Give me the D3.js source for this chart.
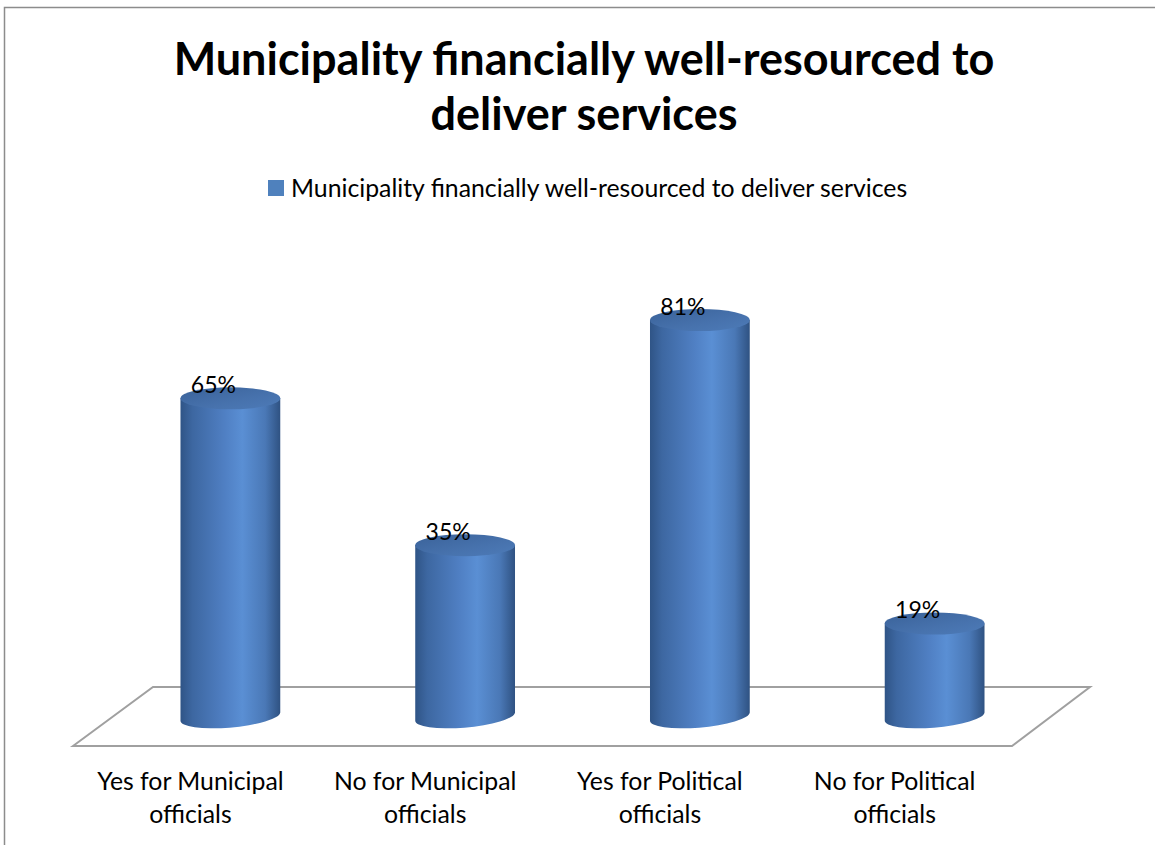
<!DOCTYPE html>
<html>
<head>
<meta charset="utf-8">
<script src="https://cdn.jsdelivr.net/npm/d3@7"></script>
<style>
  html, body { margin: 0; padding: 0; background: #fff; }
  svg { display: block; font-family: Lato, "Open Sans", sans-serif; }
</style>
</head>
<body>
<svg id="chart" width="1155" height="845"></svg>
<script>
// Survey results: share of respondents per group
const categories = [
  "Yes for Municipal officials",
  "No for Municipal officials",
  "Yes for Political officials",
  "No for Political officials"
];
const values = [65, 35, 81, 19];
const seriesName = "Municipality financially well-resourced to deliver services";
const titleLines = ["Municipality financially well-resourced to", "deliver services"];

const svg = d3.select("#chart");
const W = 1155, H = 845;

// outer frame (top and left edges visible)
svg.append("path")
  .attr("d", `M4.5,${H} L4.5,7.5 L${W},7.5`)
  .attr("fill", "none").attr("stroke", "#8c8c8c").attr("stroke-width", 1.5);

// Title
svg.append("text")
  .attr("text-anchor", "middle")
  .attr("font-weight", "bold")
  .attr("font-size", 45)
  .attr("fill", "#000")
  .selectAll("tspan").data(titleLines).join("tspan")
  .attr("x", 584).attr("y", (d, i) => 75 + i * 55)
  .text(d => d);

// Legend
const legend = svg.append("g");
legend.append("rect").attr("x", 268).attr("y", 180).attr("width", 16).attr("height", 16).attr("fill", "#4f81bd");
legend.append("text").attr("x", 291).attr("y", 197).attr("font-size", 24.8).attr("fill", "#000").text(seriesName);

// 3D geometry: floor front edge and depth offset
const floorFront = 746, floorBack = 687;
const depthX = 80;
const x = d3.scaleBand().domain(categories).range([73, 1012]).padding(0);
const y = d3.scaleLinear().domain([0, 100]).range([(floorFront + floorBack) / 2, 227]);

// Floor parallelogram
const x0 = x.range()[0], x1 = x.range()[1];
svg.append("path")
  .attr("d", `M${x0},${floorFront} L${x0 + depthX},${floorBack} L${x1 + depthX - 2},${floorBack} L${x1},${floorFront} Z`)
  .attr("fill", "none").attr("stroke", "#a0a0a0").attr("stroke-width", 2);

// Gradients for the cylinder body and cap
const defs = svg.append("defs");
const body = defs.append("linearGradient").attr("id", "cylBody").attr("x1", "0").attr("x2", "1").attr("y1", "0").attr("y2", "0");
[[0, "#2f5486"], [0.12, "#3d67a1"], [0.45, "#5080c4"], [0.62, "#5a8fd4"], [0.85, "#4a78b6"], [1, "#2f5282"]]
  .forEach(([o, c]) => body.append("stop").attr("offset", o).attr("stop-color", c));
const cap = defs.append("linearGradient").attr("id", "cylCap").attr("x1", "0").attr("x2", "1").attr("y1", "0").attr("y2", "1");
[[0, "#3a6299"], [0.6, "#4772ad"], [1, "#4d7bb8"]]
  .forEach(([o, c]) => cap.append("stop").attr("offset", o).attr("stop-color", c));

const barRatio = 0.425;
const rx = x.bandwidth() * barRatio / 2;
const ry = 11;
const data = categories.map((c, i) => ({ cat: c, value: values[i] }));

const bars = svg.append("g").selectAll("g").data(data).join("g");
bars.each(function(d) {
  const g = d3.select(this);
  const cx = x(d.cat) + x.bandwidth() / 2 + depthX / 2;
  const yb = y(0), yt = y(d.value);
  g.append("path")
    .attr("d", `M${cx - rx},${yt} L${cx - rx},${yb + 4} A${rx},${ry} -5 0 0 ${cx + rx},${yb - 4} L${cx + rx},${yt} Z`)
    .attr("fill", "url(#cylBody)");
  g.append("ellipse")
    .attr("cx", cx).attr("cy", yt).attr("rx", rx).attr("ry", ry)
    .attr("fill", "url(#cylCap)");
  g.append("text")
    .attr("x", cx - 17).attr("y", yt - 5)
    .attr("text-anchor", "middle").attr("font-size", 23).attr("fill", "#000")
    .text(d.value + "%");
});

// Category labels, wrapped onto two lines, centred on the front edge
const catLabels = svg.append("g").attr("font-size", 24.8).attr("fill", "#000").attr("text-anchor", "middle");
data.forEach(d => {
  const words = d.cat.split(" ");
  const lines = [words.slice(0, -1).join(" "), words[words.length - 1]];
  catLabels.append("text")
    .selectAll("tspan").data(lines).join("tspan")
    .attr("x", x(d.cat) + x.bandwidth() / 2)
    .attr("y", (l, i) => 790 + i * 33)
    .text(l => l);
});
</script>
</body>
</html>
